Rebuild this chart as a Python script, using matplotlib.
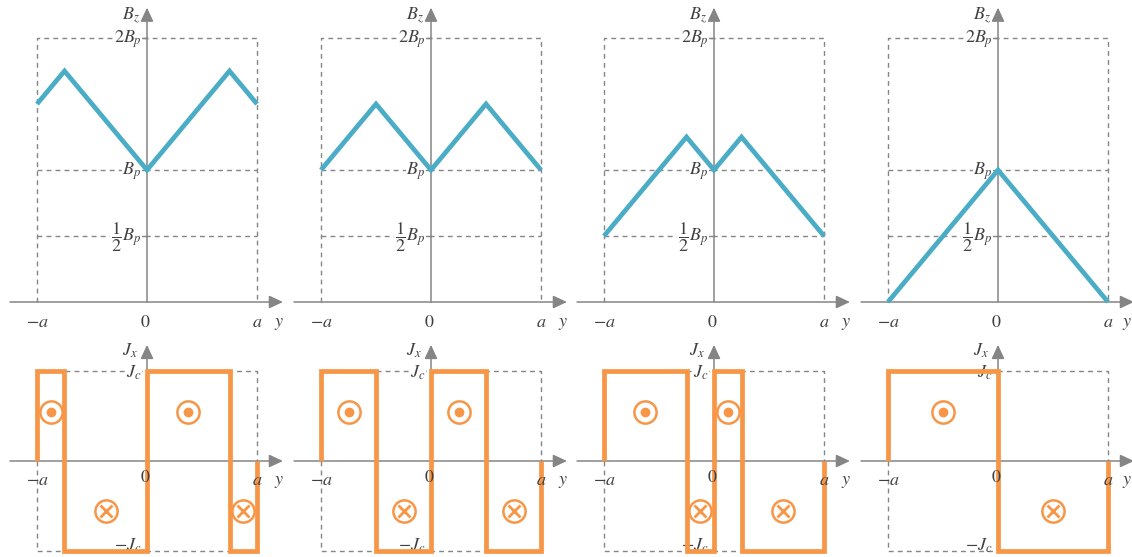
import matplotlib.pyplot as plt
import numpy as np

plt.rcParams['mathtext.fontset'] = 'stix'
plt.rcParams['font.family'] = 'STIXGeneral'

blue = '#4bacc6'
orange = '#f79646'
gray = '#858585'
txt = '#404040'

# B_z profiles: breakpoints (units of a) and field (units of B_p)
b_y = [[-1, -0.75, 0, 0.75, 1],
       [-1, -0.5, 0, 0.5, 1],
       [-1, -0.25, 0, 0.25, 1],
       [-1, 0, 1]]
b_val = [[1.5, 1.75, 1, 1.75, 1.5],
         [1, 1.5, 1, 1.5, 1],
         [0.5, 1.25, 1, 1.25, 0.5],
         [0, 1, 0]]

# J_x: region edges (units of a) and sign of J_c in each region
j_edges = [[-1, -0.75, 0, 0.75, 1],
           [-1, -0.5, 0, 0.5, 1],
           [-1, -0.25, 0, 0.25, 1],
           [-1, 0, 1]]
j_sign = [[1, -1, 1, -1],
          [1, -1, 1, -1],
          [1, -1, 1, -1],
          [1, -1]]

b_ticks = [2, 1, 0.5]
b_tick_labels = [r'$2B_p$', r'$B_p$', r'$\dfrac{1}{2}B_p$']
j_ticks = [1, -1]
j_tick_labels = [r'$J_c$', r'$-J_c$']
x_ticks = [-1, 0, 1]
x_tick_labels = [r'$-a$', r'$0$', r'$a$']

W, H = 1132, 557
centers = [147, 431, 714, 998]
sx = 110   # px per a
sb = 132   # px per B_p
sj = 90    # px per J_c
fs = 13

fig = plt.figure(figsize=(W / 100, H / 100), dpi=100)


def make_axes(cx, top, bottom, base, scale):
    ax = fig.add_axes([(cx - 150) / W, (H - bottom) / H, 300 / W, (bottom - top) / H])
    ax.set_xlim(-150 / sx, 150 / sx)
    ax.set_ylim(-(bottom - base) / scale, (base - top) / scale)
    ax.axis('off')
    ax.patch.set_visible(False)
    return ax


def arrow(ax, start, end):
    ax.annotate('', xy=end, xytext=start, annotation_clip=False,
                arrowprops=dict(arrowstyle='-|>,head_length=0.6,head_width=0.28',
                                color=gray, lw=1.1, mutation_scale=14,
                                shrinkA=0, shrinkB=0), zorder=2)


def dashed(ax, xs, ys):
    ax.plot(xs, ys, color=gray, lw=1, dashes=(3.5, 3), zorder=1, clip_on=False)


def label(ax, x, y, s, **kw):
    kw.setdefault('ha', 'center')
    kw.setdefault('va', 'center')
    ax.text(x, y, s, fontsize=fs, color=txt, clip_on=False, **kw)


box = dict(boxstyle='square,pad=0.05', fc='white', ec='none')

for k, cx in enumerate(centers):
    # the last panel's y label sits against the right edge
    y_lab_x = 1.17 if k == len(centers) - 1 else 1.2

    # top row: B_z
    ax = make_axes(cx, 0, 335, 302, sb)
    dashed(ax, [-1, -1, 1, 1], [0, 2, 2, 0])
    for t in b_ticks[1:]:
        dashed(ax, [-1, 1], [t, t])
    arrow(ax, (-1.245, 0), (1.236, 0))
    arrow(ax, (0, 0), (0, 2.23))
    for t, s in zip(b_ticks, b_tick_labels):
        ax.plot([-0.045, 0], [t, t], color=gray, lw=1, zorder=2)
        ax.text(-0.05, t - 0.01, s, fontsize=fs, color=txt, ha='right', va='center',
                zorder=3, bbox=box)
    for t, s in zip(x_ticks, x_tick_labels):
        label(ax, t - (0.015 if t == 0 else 0), -0.16, s)
    label(ax, y_lab_x, -0.165, r'$y$')
    label(ax, -0.06, 2.17, r'$B_z$', ha='right')
    ax.plot(b_y[k], b_val[k], color=blue, lw=3.4, solid_joinstyle='miter',
            solid_capstyle='butt', zorder=5, clip_on=False)

    # bottom row: J_x
    ax = make_axes(cx, 335, 557, 461, sj)
    dashed(ax, [-1, -1, 1, 1, -1], [0, -1, -1, 1, 1])
    dashed(ax, [-1, -1], [0, 1])
    dashed(ax, [1, 1], [0, -1])
    arrow(ax, (-1.245, 0), (1.236, 0))
    arrow(ax, (0, -1), (0, 1.29))
    ax.text(-0.05, 0.98, j_tick_labels[0], fontsize=fs, color=txt, ha='right',
            va='center', zorder=3, bbox=box)
    ax.text(-0.05, -1.0, j_tick_labels[1], fontsize=fs, color=txt, ha='right',
            va='baseline', zorder=3)
    for t, s in zip(x_ticks, x_tick_labels):
        dy = -0.19 if t == 0 else -0.22
        label(ax, t - (0.015 if t == 0 else 0), dy, s, zorder=6)
    label(ax, y_lab_x, -0.23, r'$y$')
    label(ax, -0.08, 1.23, r'$J_x$', ha='right')

    edges = j_edges[k]
    signs = j_sign[k]
    xs, ys = [edges[0]], [0]
    for i, s in enumerate(signs):
        xs += [edges[i], edges[i + 1]]
        ys += [s, s]
    xs.append(edges[-1])
    ys.append(0)
    ax.plot(xs, ys, color=orange, lw=3.4, solid_joinstyle='miter',
            solid_capstyle='butt', zorder=5, clip_on=False)

    # current direction symbols at the middle of each region
    mids = (np.array(edges[:-1]) + np.array(edges[1:])) / 2
    for m, s in zip(mids, signs):
        yy = 0.55 * s
        ax.plot(m, yy, 'o', ms=16, mfc='white', mec=orange, mew=1.8, zorder=6)
        if s > 0:
            ax.plot(m, yy, 'o', ms=6, color=orange, zorder=7)
        else:
            ax.plot(m, yy, 'x', ms=8.5, color=orange, mew=2, zorder=7)

fig.savefig('out.png', dpi=100)
